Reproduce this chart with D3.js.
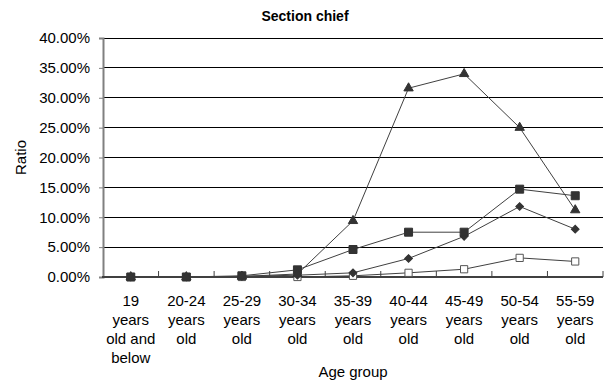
<!DOCTYPE html>
<html>
<head>
<meta charset="utf-8">
<script src="https://cdn.jsdelivr.net/npm/d3@7"></script>
<style>
  body { margin: 0; background: #fff; }
  text { font-family: "Liberation Sans", Arial, sans-serif; fill: #000; }
</style>
</head>
<body>
<div id="chart"></div>
<script>
// age groups, each label split in lines
const categories = [
  ["19", "years", "old and", "below"],
  ["20-24", "years", "old"],
  ["25-29", "years", "old"],
  ["30-34", "years", "old"],
  ["35-39", "years", "old"],
  ["40-44", "years", "old"],
  ["45-49", "years", "old"],
  ["50-54", "years", "old"],
  ["55-59", "years", "old"]
];
const yTicks = [0, 0.05, 0.10, 0.15, 0.20, 0.25, 0.30, 0.35, 0.40];

// ratios
const triangleSeries = [0, 0, 0.001, 0.005, 0.094, 0.316, 0.340, 0.250, 0.112];
const squareSeries   = [0, 0, 0.002, 0.012, 0.046, 0.075, 0.075, 0.147, 0.136];
const diamondSeries  = [0, 0, 0.001, 0.003, 0.007, 0.031, 0.068, 0.118, 0.080];
const openSeries     = [0, 0, 0, 0.000, 0.002, 0.007, 0.013, 0.032, 0.026];

const width = 604, height = 380;
const margin = {top: 38, right: 1, bottom: 103, left: 103};
const innerW = width - margin.left - margin.right;
const innerH = height - margin.top - margin.bottom;

const svg = d3.select("#chart").append("svg")
  .attr("width", width).attr("height", height);

const g = svg.append("g")
  .attr("transform", `translate(${margin.left},${margin.top})`);

const x = d3.scaleBand().domain(d3.range(categories.length)).range([0, innerW]);
const y = d3.scaleLinear().domain([0, 0.40]).range([innerH, 0]);

// gridlines
g.selectAll(".grid").data(yTicks.slice(1)).enter().append("line")
  .attr("x1", 0).attr("x2", innerW)
  .attr("y1", d => y(d)).attr("y2", d => y(d))
  .attr("stroke", "#000").attr("stroke-width", 1).attr("shape-rendering", "crispEdges");

// y axis
const yAxis = g.append("g")
  .call(d3.axisLeft(y).tickValues(yTicks).tickFormat(d3.format(".2%")).tickSize(4).tickPadding(9));
yAxis.select(".domain").attr("stroke", "#808080").attr("stroke-width", 2);
yAxis.selectAll(".tick line").attr("stroke", "#808080").attr("stroke-width", 1);
yAxis.selectAll(".tick text")
  .style("font-size", "15px").style("font-family", "'Liberation Sans', Arial, sans-serif").attr("fill", "#000");

// x axis, ticks between categories pointing up
const boundaries = d3.range(categories.length + 1).map(i => i * x.bandwidth());
g.append("line")
  .attr("x1", -1).attr("x2", innerW).attr("y1", innerH).attr("y2", innerH)
  .attr("stroke", "#404040").attr("stroke-width", 2);
g.selectAll(".xtick").data(boundaries.slice(1)).enter().append("line")
  .attr("x1", d => d).attr("x2", d => d)
  .attr("y1", innerH - 6).attr("y2", innerH)
  .attr("stroke", "#404040").attr("stroke-width", 1);

const xLabels = g.selectAll(".xlabel").data(categories).enter().append("text")
  .attr("text-anchor", "middle")
  .attr("transform", (d, i) => `translate(${x(i) + x.bandwidth() / 2},${innerH + 29})`)
  .style("font-size", "15px");
xLabels.selectAll("tspan").data(d => d).enter().append("tspan")
  .attr("x", 0).attr("dy", (d, i) => i === 0 ? 0 : 19)
  .text(d => d);

// lines and markers
const cx = i => x(i) + x.bandwidth() / 2;
const line = d3.line().x((d, i) => cx(i)).y(d => y(d));

const series = [
  {name: "open", values: openSeries, symbol: d3.symbolSquare, size: 52, rot: 0, fill: "#fff", stroke: "#555"},
  {name: "diamond", values: diamondSeries, symbol: d3.symbolSquare, size: 30, rot: 45, fill: "#333", stroke: "#333"},
  {name: "square", values: squareSeries, symbol: d3.symbolSquare, size: 64, rot: 0, fill: "#333", stroke: "#333"},
  {name: "triangle", values: triangleSeries, symbol: d3.symbolTriangle, size: 38, rot: 0, fill: "#333", stroke: "#333"}
];

series.forEach(s => {
  g.append("path").datum(s.values)
    .attr("d", line).attr("fill", "none")
    .attr("stroke", "#404040").attr("stroke-width", 1);
});
series.forEach(s => {
  g.selectAll(`.m-${s.name}`).data(s.values).enter().append("path")
    .attr("d", d3.symbol().type(s.symbol).size(s.size))
    .attr("transform", (d, i) => `translate(${cx(i)},${y(d)}) rotate(${s.rot})`)
    .attr("fill", s.fill).attr("stroke", s.stroke).attr("stroke-width", 1);
});

// titles
svg.append("text")
  .attr("x", 305).attr("y", 21).attr("text-anchor", "middle")
  .style("font-size", "14px").style("font-weight", "bold")
  .text("Section chief");

svg.append("text")
  .attr("x", margin.left + innerW / 2).attr("y", 377).attr("text-anchor", "middle")
  .style("font-size", "15px")
  .text("Age group");

svg.append("text")
  .attr("transform", `translate(26,${margin.top + innerH / 2}) rotate(-90)`)
  .attr("text-anchor", "middle")
  .style("font-size", "15px")
  .text("Ratio");
</script>
</body>
</html>
